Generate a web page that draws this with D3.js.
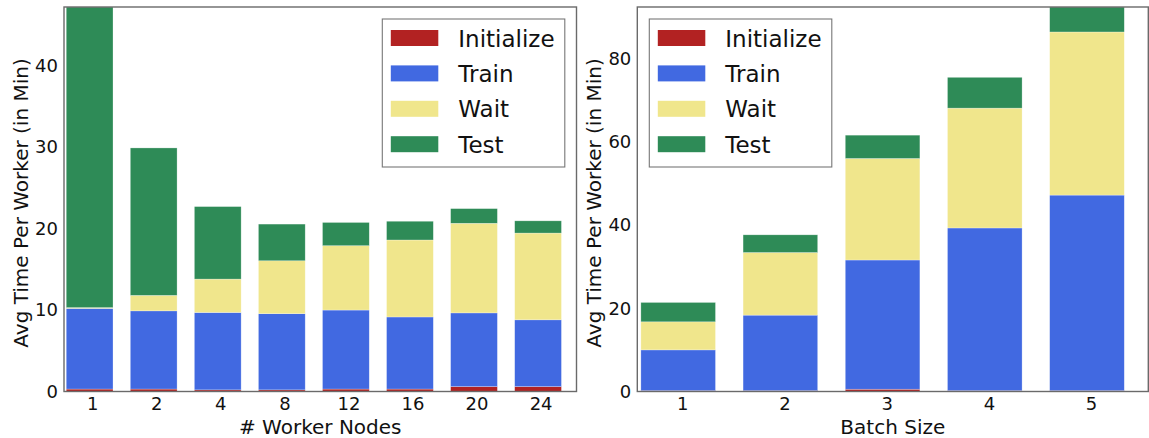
<!DOCTYPE html>
<html>
<head>
<meta charset="utf-8">
<script src="https://cdn.jsdelivr.net/npm/d3@7"></script>
<style>
  html, body { margin: 0; padding: 0; background: #fff; }
  svg { display: block; }
  text { font-family: "DejaVu Sans", sans-serif; fill: #111; }
</style>
</head>
<body>
<svg id="chart" width="1149" height="438"></svg>
<script>
// Phase names (stack order, bottom to top) and their colours
const phases = ["Initialize", "Train", "Wait", "Test"];
const phaseColors = ["#B22222", "#4169E1", "#F0E68C", "#2E8B57"];

// Left panel: scaling the number of worker nodes
const workerNodes = ["1", "2", "4", "8", "12", "16", "20", "24"];
const workerInitialize = [0.3, 0.3, 0.2, 0.2, 0.3, 0.3, 0.6, 0.6];
const workerTrain      = [9.9, 9.6, 9.5, 9.35, 9.7, 8.85, 9.05, 8.2];
const workerWait       = [0.1, 1.9, 4.1, 6.5, 7.9, 9.45, 11.0, 10.65];
const workerTest       = [36.9, 18.1, 8.9, 4.5, 2.85, 2.3, 1.8, 1.5];
const workerTicks = [0, 10, 20, 30, 40];

// Right panel: scaling the batch size
const batchSizes = ["1", "2", "3", "4", "5"];
const batchInitialize = [0.2, 0.2, 0.55, 0.2, 0.2];
const batchTrain      = [9.8, 18.15, 31.05, 39.1, 47.0];
const batchWait       = [6.75, 15.05, 24.4, 28.8, 39.2];
const batchTest       = [4.65, 4.25, 5.6, 7.4, 6.0];
const batchTicks = [0, 20, 40, 60, 80];

const svg = d3.select("#chart");

function drawPanel(opts) {
  const { left, right, top, bottom, categories, series, ticks, xLabel, legendX, yLabelX } = opts;
  const n = categories.length;

  // table of rows for d3.stack
  const rows = categories.map((c, i) => {
    const r = { cat: c, idx: i };
    phases.forEach((p, k) => { r[p] = series[k][i]; });
    return r;
  });
  const stacked = d3.stack().keys(phases)(rows);
  const yMax = d3.max(stacked[stacked.length - 1], d => d[1]);

  const x = d3.scaleLinear().domain([-0.4, n - 0.4]).range([left, right]);
  const y = d3.scaleLinear().domain([0, yMax]).range([bottom, top]);
  const barW = 0.73;

  const g = svg.append("g");

  // stacked bars
  g.selectAll("g.layer")
    .data(stacked)
    .join("g")
    .attr("class", "layer")
    .attr("fill", (d, k) => phaseColors[k])
    .selectAll("rect")
    .data(d => d)
    .join("rect")
    .attr("x", d => x(d.data.idx - barW / 2))
    .attr("width", d => x(barW) - x(0))
    .attr("y", d => y(d[1]))
    .attr("height", d => Math.max(0, y(d[0]) - y(d[1])))
    .attr("stroke", "rgba(255,255,255,0.45)")
    .attr("stroke-width", 0.6);

  // axes (labels only, no tick marks)
  const xAxis = d3.axisBottom(x)
    .tickValues(d3.range(n).map(i => i + 0.04))
    .tickFormat((d, i) => categories[i])
    .tickSize(0).tickPadding(6);
  const yAxis = d3.axisLeft(y).tickValues(ticks).tickSize(0).tickPadding(6);

  const gx = g.append("g").attr("transform", `translate(0,${bottom})`).call(xAxis);
  const gy = g.append("g").attr("transform", `translate(${left},0)`).call(yAxis);
  [gx, gy].forEach(a => {
    a.select(".domain").remove();
    a.selectAll("text").style("font-family", "DejaVu Sans, sans-serif").style("font-size", "18px").attr("fill", "#111");
  });

  // frame
  g.append("rect")
    .attr("x", left).attr("y", top)
    .attr("width", right - left).attr("height", bottom - top)
    .attr("fill", "none").attr("stroke", "#6a6a6a").attr("stroke-width", 1.4);

  // axis titles
  g.append("text")
    .attr("x", (left + right) / 2).attr("y", 434)
    .attr("text-anchor", "middle")
    .style("font-size", "20px")
    .text(xLabel);
  g.append("text")
    .attr("transform", `translate(${yLabelX},203) rotate(-90)`)
    .attr("text-anchor", "middle")
    .style("font-size", "20px")
    .text("Avg Time Per Worker (in Min)");

  // legend
  const lg = g.append("g").attr("transform", `translate(${legendX},19)`);
  lg.append("rect")
    .attr("width", 182.5).attr("height", 148)
    .attr("fill", "#fff").attr("stroke", "#777").attr("stroke-width", 1.1);
  phases.forEach((p, k) => {
    const cy = 19 + k * 35.4;
    lg.append("rect")
      .attr("x", 8.5).attr("y", cy - 8)
      .attr("width", 47.5).attr("height", 16)
      .attr("fill", phaseColors[k]);
    lg.append("text")
      .attr("x", 76).attr("y", cy + 8.5)
      .style("font-size", "23px")
      .text(p);
  });
}

drawPanel({
  left: 64, right: 576.5, top: 7, bottom: 391.5,
  categories: workerNodes,
  series: [workerInitialize, workerTrain, workerWait, workerTest],
  ticks: workerTicks,
  xLabel: "# Worker Nodes",
  legendX: 382.3,
  yLabelX: 28
});

drawPanel({
  left: 637.3, right: 1148.3, top: 7, bottom: 391.5,
  categories: batchSizes,
  series: [batchInitialize, batchTrain, batchWait, batchTest],
  ticks: batchTicks,
  xLabel: "Batch Size",
  legendX: 649.3,
  yLabelX: 601
});
</script>
</body>
</html>
